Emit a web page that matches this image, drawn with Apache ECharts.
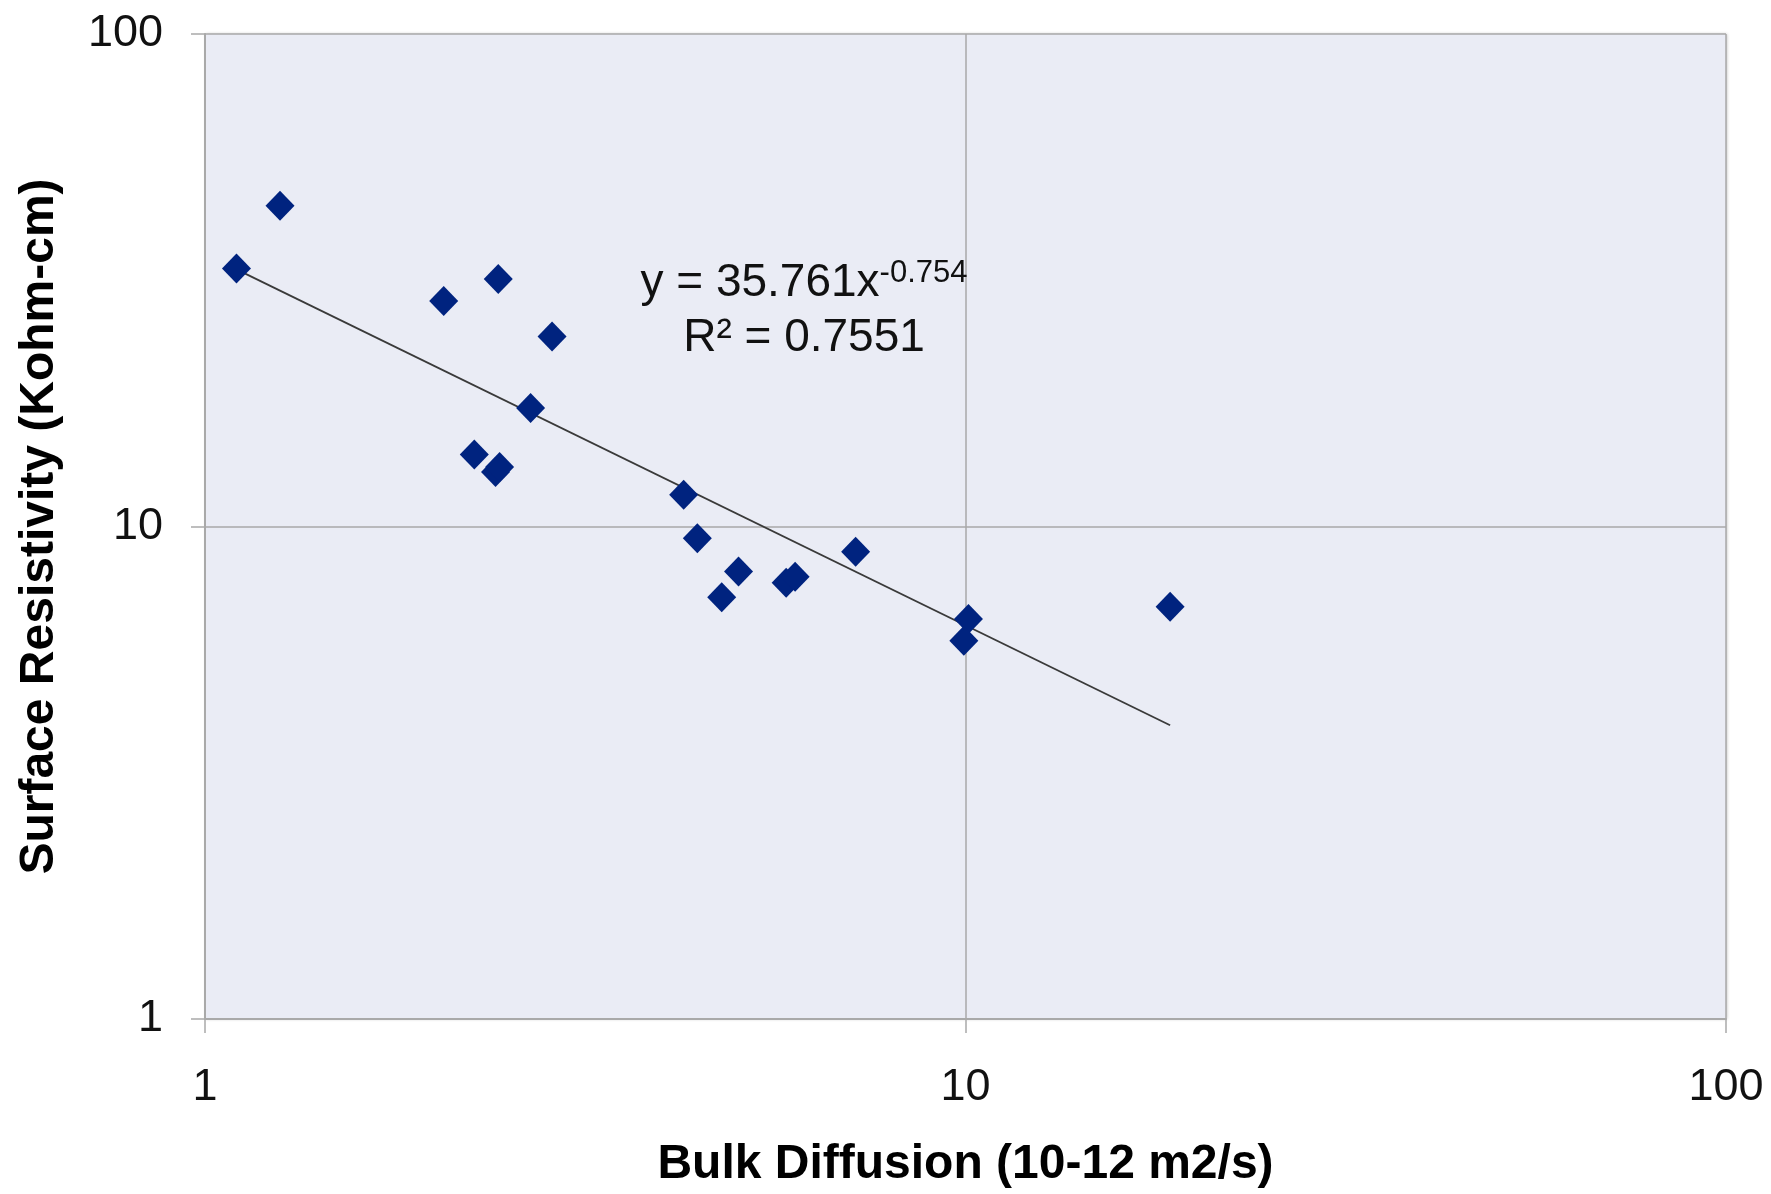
<!DOCTYPE html>
<html>
<head>
<meta charset="utf-8">
<title>Surface Resistivity vs Bulk Diffusion</title>
<script src="https://cdn.jsdelivr.net/npm/echarts@6/dist/echarts.min.js"></script>
<style>
  html, body { margin: 0; padding: 0; background: #ffffff; }
  #chart { width: 1771px; height: 1194px; }
</style>
</head>
<body>
<div id="chart"></div>
<script>
// Measured specimens: bulk diffusion (x) and surface resistivity (y)
const bulkDiffusion = [1.10, 1.255, 2.06, 2.43, 2.86, 2.68, 2.26, 2.41, 2.44, 4.26,
                       4.44, 5.03, 4.78, 5.81, 5.97, 7.17, 10.09, 9.95, 18.58];
const surfaceResistivity = [33.4, 44.8, 28.7, 31.8, 24.3, 17.4, 14.0, 12.9, 13.2, 11.6,
                            9.46, 8.10, 7.18, 7.69, 7.91, 8.89, 6.49, 5.86, 6.87];

// Power-law fit y = a * x^b, as reported on the chart
const trendCoef = 35.761;
const trendExp = -0.754;
const trendR2 = 0.7551;

// Axis tick values (log scale, one decade apart)
const xTicks = [1, 10, 100];
const yTicks = [1, 10, 100];

const points = bulkDiffusion.map((x, i) => [x, surfaceResistivity[i]]);
const xMin = Math.min(...bulkDiffusion);
const xMax = Math.max(...bulkDiffusion);
const trendLine = [xMin, xMax].map(x => [x, trendCoef * Math.pow(x, trendExp)]);

const FONT = '"Liberation Sans", Arial, sans-serif';
const GRID_COLOR = '#a9a9a9';

const chart = echarts.init(document.getElementById('chart'), null, { renderer: 'canvas' });

chart.setOption({
  backgroundColor: '#ffffff',
  animation: false,
  grid: {
    left: 205, right: 45, top: 34, bottom: 175,
    show: true,
    backgroundColor: '#eaecf5',
    borderWidth: 0,
    shadowColor: 'rgba(0,0,0,0.25)',
    shadowBlur: 3,
    shadowOffsetX: 1,
    shadowOffsetY: 0
  },
  xAxis: {
    type: 'log',
    logBase: 10,
    min: xTicks[0],
    max: xTicks[xTicks.length - 1],
    name: 'Bulk Diffusion (10-12 m2/s)',
    nameLocation: 'middle',
    nameGap: 122,
    nameTextStyle: { fontFamily: FONT, fontSize: 48, fontWeight: 'bold', color: '#000' },
    axisLine: { show: true, lineStyle: { color: GRID_COLOR, width: 2 } },
    axisTick: { show: true, length: 14, lineStyle: { color: GRID_COLOR, width: 1.5 } },
    axisLabel: {
      margin: 46,
      fontFamily: FONT, fontSize: 45, color: '#111',
      formatter: v => String(Math.round(v))
    },
    splitLine: { show: true, lineStyle: { color: GRID_COLOR, width: 1.5 } },
    minorTick: { show: false },
    minorSplitLine: { show: false }
  },
  yAxis: {
    type: 'log',
    logBase: 10,
    min: yTicks[0],
    max: yTicks[yTicks.length - 1],
    name: 'Surface Resistivity (Kohm-cm)',
    nameLocation: 'middle',
    nameGap: 141,
    nameTextStyle: { fontFamily: FONT, fontSize: 48, fontWeight: 'bold', color: '#000' },
    axisLine: { show: true, lineStyle: { color: GRID_COLOR, width: 2 } },
    axisTick: { show: true, length: 14, lineStyle: { color: GRID_COLOR, width: 1.5 } },
    axisLabel: {
      margin: 42,
      fontFamily: FONT, fontSize: 45, color: '#111',
      formatter: v => String(Math.round(v))
    },
    splitLine: { show: true, lineStyle: { color: GRID_COLOR, width: 1.5 } },
    minorTick: { show: false },
    minorSplitLine: { show: false }
  },
  series: [
    {
      name: 'Power fit',
      type: 'line',
      data: trendLine,
      symbol: 'none',
      z: 3,
      lineStyle: { color: '#3a3a3a', width: 1.8 }
    },
    {
      name: 'Specimens',
      type: 'scatter',
      data: points,
      symbol: 'diamond',
      symbolSize: [29, 30],
      z: 4,
      itemStyle: { color: '#00237f', opacity: 1 }
    }
  ],
  graphic: [
    {
      type: 'text',
      x: 804,
      y: 256,
      z: 10,
      style: {
        text: '{n|y = ' + trendCoef.toFixed(3) + 'x}{s|' + trendExp.toFixed(3) + '}\n{n|R² = ' + trendR2.toFixed(4) + '}',
        align: 'center',
        verticalAlign: 'top',
        fontFamily: FONT,
        fill: '#111',
        rich: {
          n: { fontFamily: FONT, fontSize: 46, lineHeight: 55, color: '#111' },
          s: { fontFamily: FONT, fontSize: 31, lineHeight: 31, color: '#111', verticalAlign: 'top', padding: [2, 0, 0, 0] }
        }
      }
    }
  ]
});
</script>
</body>
</html>
